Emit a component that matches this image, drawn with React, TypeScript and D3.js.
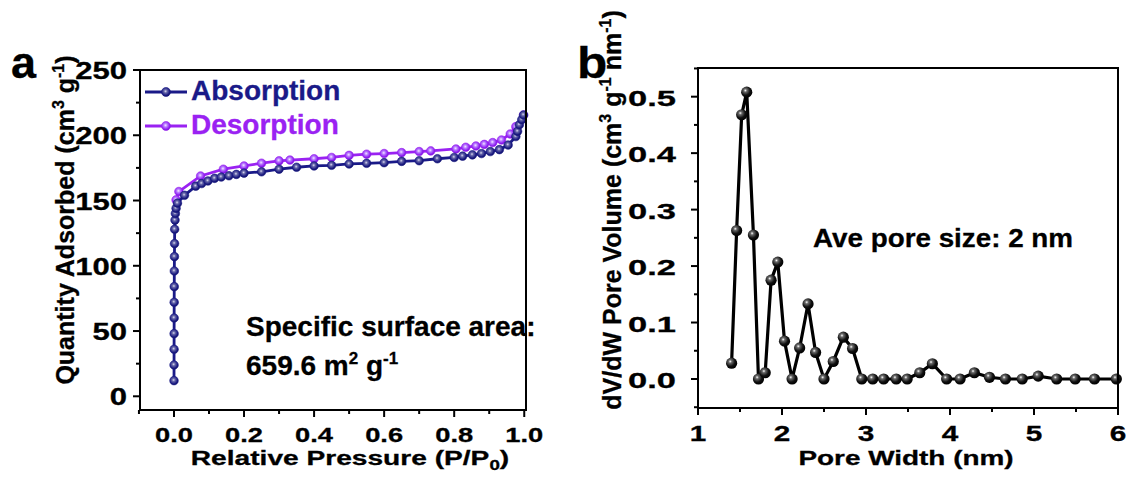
import React from "react";
import * as d3 from "d3";

const FONT = "'Liberation Sans', Arial, Helvetica, sans-serif";

// Panel a: N2 isotherm
const absorptionP = [0.0001, 0.0002, 0.0003, 0.0004, 0.0005, 0.0006, 0.0008, 0.001, 0.0013, 0.0017, 0.002, 0.003, 0.004, 0.006, 0.01, 0.03, 0.062, 0.079, 0.097, 0.116, 0.135, 0.157, 0.178, 0.2, 0.25, 0.3, 0.35, 0.4, 0.45, 0.5, 0.55, 0.6, 0.65, 0.7, 0.752, 0.8, 0.824, 0.852, 0.878, 0.903, 0.929, 0.954, 0.976, 0.981, 0.986, 0.993, 0.998];
const absorptionQ = [12, 24, 36, 48, 60, 72, 84, 96, 107, 117, 128, 135, 140, 144, 148, 154, 161, 163, 165, 167, 168, 169, 170, 171, 172, 174, 175.5, 176.5, 177, 178, 178.5, 179, 180, 180.5, 182, 183, 184, 185, 186, 187.5, 189, 192.5, 199, 203, 208, 212, 215.5];
const desorptionP = [0.998, 0.976, 0.96, 0.935, 0.91, 0.886, 0.862, 0.833, 0.805, 0.733, 0.7, 0.65, 0.6, 0.55, 0.5, 0.45, 0.4, 0.331, 0.3, 0.25, 0.2, 0.141, 0.076, 0.014, 0.006];
const desorptionQ = [215.5, 206.6, 201, 196.4, 194.4, 193, 191.8, 190.8, 189.5, 188, 187.5, 186.7, 186, 185.5, 184.6, 183, 182, 181, 180.4, 178.6, 176.5, 174, 168.8, 156.9, 150.5];
const aXTicks = [0, 0.2, 0.4, 0.6, 0.8, 1.0];
const aXMinor = [-0.1, 0.1, 0.3, 0.5, 0.7, 0.9];
const aYTicks = [0, 50, 100, 150, 200, 250];
const aYMinor = [25, 75, 125, 175, 225];

// Panel b: pore size distribution
const poreWidth = [1.40, 1.46, 1.52, 1.58, 1.66, 1.72, 1.80, 1.87, 1.95, 2.03, 2.12, 2.21, 2.31, 2.40, 2.50, 2.61, 2.73, 2.84, 2.95, 3.08, 3.21, 3.36, 3.49, 3.64, 3.79, 3.96, 4.12, 4.29, 4.47, 4.66, 4.86, 5.05, 5.27, 5.49, 5.72, 5.98];
const poreVolume = [0.028, 0.263, 0.468, 0.508, 0.255, 0.0, 0.011, 0.175, 0.207, 0.067, 0.0, 0.055, 0.133, 0.047, 0.0, 0.031, 0.074, 0.054, 0.0, 0.0, 0.0, 0.0, 0.0, 0.011, 0.027, 0.0, 0.0, 0.011, 0.003, 0.0, 0.0, 0.005, 0.0, 0.0, 0.0, 0.0];
const bXTicks = [1, 2, 3, 4, 5, 6];
const bXMinor = [1.5, 2.5, 3.5, 4.5, 5.5];
const bYTicks = [0, 0.1, 0.2, 0.3, 0.4, 0.5];
const bYMinor = [-0.05, 0.05, 0.15, 0.25, 0.35, 0.45, 0.55];

const NAVY = "#1a1a88";
const PURPLE = "#9a22f2";

function ST({ x, y, size, sx = 1, anchor = "start", fill = "#000", children }: any) {
  return (
    <text
      transform={`translate(${x},${y}) scale(${sx},1)`}
      textAnchor={anchor}
      fontFamily={FONT}
      fontWeight="bold"
      fontSize={size}
      fill={fill}
      stroke={fill}
      strokeWidth={0.3}
    >
      {children}
    </text>
  );
}

export default function App() {
  const xa = d3.scaleLinear().domain([-0.097, 1.005]).range([140, 526]);
  const ya = d3.scaleLinear().domain([-10.5, 250]).range([410, 70]);
  const xb = d3.scaleLinear().domain([1, 6]).range([698, 1118]);
  const yb = d3.scaleLinear().domain([-0.0514, 0.5508]).range([408, 68]);

  const absPts = absorptionP.map((p, i) => [xa(p), ya(absorptionQ[i])] as [number, number]);
  const desPts = desorptionP.map((p, i) => [xa(p), ya(desorptionQ[i])] as [number, number]);
  const porePts = poreWidth.map((w, i) => [xb(w), yb(poreVolume[i])] as [number, number]);
  const line = d3.line();

  const [ax0, ax1] = xa.range();
  const [ay0, ay1] = ya.range();
  const [bx0, bx1] = xb.range();
  const [by0, by1] = yb.range();
  const inA = (v: number) => v >= ya.domain()[0] && v <= ya.domain()[1];
  const inB = (v: number) => v >= yb.domain()[0] && v <= yb.domain()[1];

  return (
    <svg width={1130} height={480} style={{ position: "absolute", left: 0, top: 0, background: "#fff" }}>
      <defs>
        <radialGradient id="gNavy" cx="45%" cy="42%" r="60%">
          <stop offset="0" stopColor="#dcdcee" />
          <stop offset="0.3" stopColor="#6666aa" />
          <stop offset="0.75" stopColor="#1a1a80" />
          <stop offset="1" stopColor="#10105e" />
        </radialGradient>
        <radialGradient id="gPurple" cx="45%" cy="42%" r="60%">
          <stop offset="0" stopColor="#f4e8ff" />
          <stop offset="0.35" stopColor="#b777ff" />
          <stop offset="0.8" stopColor="#8a18ee" />
          <stop offset="1" stopColor="#6e0fd0" />
        </radialGradient>
        <radialGradient id="gBlack" cx="38%" cy="35%" r="65%">
          <stop offset="0" stopColor="#ffffff" />
          <stop offset="0.22" stopColor="#6a6a6a" />
          <stop offset="0.65" stopColor="#101010" />
          <stop offset="1" stopColor="#000000" />
        </radialGradient>
      </defs>

      {/* ===== Panel a ===== */}
      <path d={line(desPts) || ""} fill="none" stroke={PURPLE} strokeWidth={2.8} />
      {desPts.map((p, i) => (
        <circle key={"d" + i} cx={p[0]} cy={p[1]} r={4.3} fill="url(#gPurple)" stroke={PURPLE} strokeWidth={0.6} />
      ))}
      <path d={line(absPts) || ""} fill="none" stroke={NAVY} strokeWidth={2.8} />
      {absPts.map((p, i) => (
        <circle key={"a" + i} cx={p[0]} cy={p[1]} r={4.3} fill="url(#gNavy)" stroke={NAVY} strokeWidth={0.6} />
      ))}

      <rect x={ax0} y={ay1} width={ax1 - ax0} height={ay0 - ay1} fill="none" stroke="#000" strokeWidth={2} />
      {aXTicks.map((t) => (
        <g key={"axt" + t}>
          <line x1={xa(t)} x2={xa(t)} y1={ay0} y2={ay0 + 7} stroke="#000" strokeWidth={2} />
          <ST x={xa(t)} y={442} size={21} sx={1.3} anchor="middle">{t.toFixed(1)}</ST>
        </g>
      ))}
      {aXMinor.map((t) => (
        <line key={"axm" + t} x1={xa(t)} x2={xa(t)} y1={ay0} y2={ay0 + 4} stroke="#000" strokeWidth={2} />
      ))}
      {aYTicks.map((t) => (
        <g key={"ayt" + t}>
          <line x1={ax0 - 7} x2={ax0} y1={ya(t)} y2={ya(t)} stroke="#000" strokeWidth={2} />
          <ST x={127} y={ya(t) + 9} size={23} sx={1.35} anchor="end">{String(t)}</ST>
        </g>
      ))}
      {aYMinor.filter(inA).map((t) => (
        <line key={"aym" + t} x1={ax0 - 4} x2={ax0} y1={ya(t)} y2={ya(t)} stroke="#000" strokeWidth={2} />
      ))}

      {/* legend */}
      <line x1={145} x2={187} y1={92} y2={92} stroke={NAVY} strokeWidth={2.8} />
      <circle cx={166} cy={92} r={4.5} fill="url(#gNavy)" stroke={NAVY} strokeWidth={0.6} />
      <ST x={191} y={100} size={28} fill={NAVY}>Absorption</ST>
      <line x1={145} x2={187} y1={126} y2={126} stroke={PURPLE} strokeWidth={2.8} />
      <circle cx={166} cy={126} r={4.5} fill="url(#gPurple)" stroke={PURPLE} strokeWidth={0.6} />
      <ST x={191} y={134} size={28} fill={PURPLE}>Desorption</ST>

      <ST x={246} y={336} size={28}>Specific surface area:</ST>
      <ST x={246} y={375} size={28}>
        659.6 m<tspan fontSize={17} dy={-11}>2</tspan>
        <tspan dy={11}> g</tspan>
        <tspan fontSize={17} dy={-11}>-1</tspan>
      </ST>

      <ST x={350} y={465} size={21} sx={1.34} anchor="middle">
        Relative Pressure (P/P<tspan fontSize={14} dy={5}>0</tspan>
        <tspan dy={-5}>)</tspan>
      </ST>
      <text
        transform="translate(74,220) rotate(-90)"
        textAnchor="middle"
        fontFamily={FONT}
        fontWeight="bold"
        fontSize={25}
        stroke="#000"
        strokeWidth={0.3}
      >
        Quantity Adsorbed (cm<tspan fontSize={16} dy={-10}>3</tspan>
        <tspan dy={10}> g</tspan>
        <tspan fontSize={16} dy={-10}>-1</tspan>
        <tspan dy={10}>)</tspan>
      </text>
      <ST x={11} y={78} size={45}>a</ST>

      {/* ===== Panel b ===== */}
      <path d={line(porePts) || ""} fill="none" stroke="#000" strokeWidth={3.2} />
      {porePts.map((p, i) => (
        <circle key={"b" + i} cx={p[0]} cy={p[1]} r={5.6} fill="url(#gBlack)" />
      ))}

      <rect x={bx0} y={by1} width={bx1 - bx0} height={by0 - by1} fill="none" stroke="#000" strokeWidth={2} />
      {bXTicks.map((t) => (
        <g key={"bxt" + t}>
          <line x1={xb(t)} x2={xb(t)} y1={by0} y2={by0 + 7} stroke="#000" strokeWidth={2} />
          <ST x={xb(t)} y={441} size={22} sx={1.35} anchor="middle">{String(t)}</ST>
        </g>
      ))}
      {bXMinor.map((t) => (
        <line key={"bxm" + t} x1={xb(t)} x2={xb(t)} y1={by0} y2={by0 + 4} stroke="#000" strokeWidth={2} />
      ))}
      {bYTicks.map((t) => (
        <g key={"byt" + t}>
          <line x1={bx0 - 7} x2={bx0} y1={yb(t)} y2={yb(t)} stroke="#000" strokeWidth={2} />
          <ST x={676} y={yb(t) + 9} size={23} sx={1.5} anchor="end">{t.toFixed(1)}</ST>
        </g>
      ))}
      {bYMinor.filter(inB).map((t) => (
        <line key={"bym" + t} x1={bx0 - 4} x2={bx0} y1={yb(t)} y2={yb(t)} stroke="#000" strokeWidth={2} />
      ))}

      <ST x={813} y={247} size={26} sx={1.07}>Ave pore size: 2 nm</ST>

      <ST x={906} y={465} size={21} sx={1.33} anchor="middle">Pore Width (nm)</ST>
      <text
        transform="translate(621,210) rotate(-90)"
        textAnchor="middle"
        fontFamily={FONT}
        fontWeight="bold"
        fontSize={25}
        stroke="#000"
        strokeWidth={0.3}
      >
        dV/dW Pore Volume (cm<tspan fontSize={16} dy={-10}>3</tspan>
        <tspan dy={10}> g</tspan>
        <tspan fontSize={16} dy={-10}>-1</tspan>
        <tspan dy={10}> nm</tspan>
        <tspan fontSize={16} dy={-10}>-1</tspan>
        <tspan dy={10}>)</tspan>
      </text>
      <ST x={577} y={78} size={45} sx={1.1}>b</ST>
    </svg>
  );
}
